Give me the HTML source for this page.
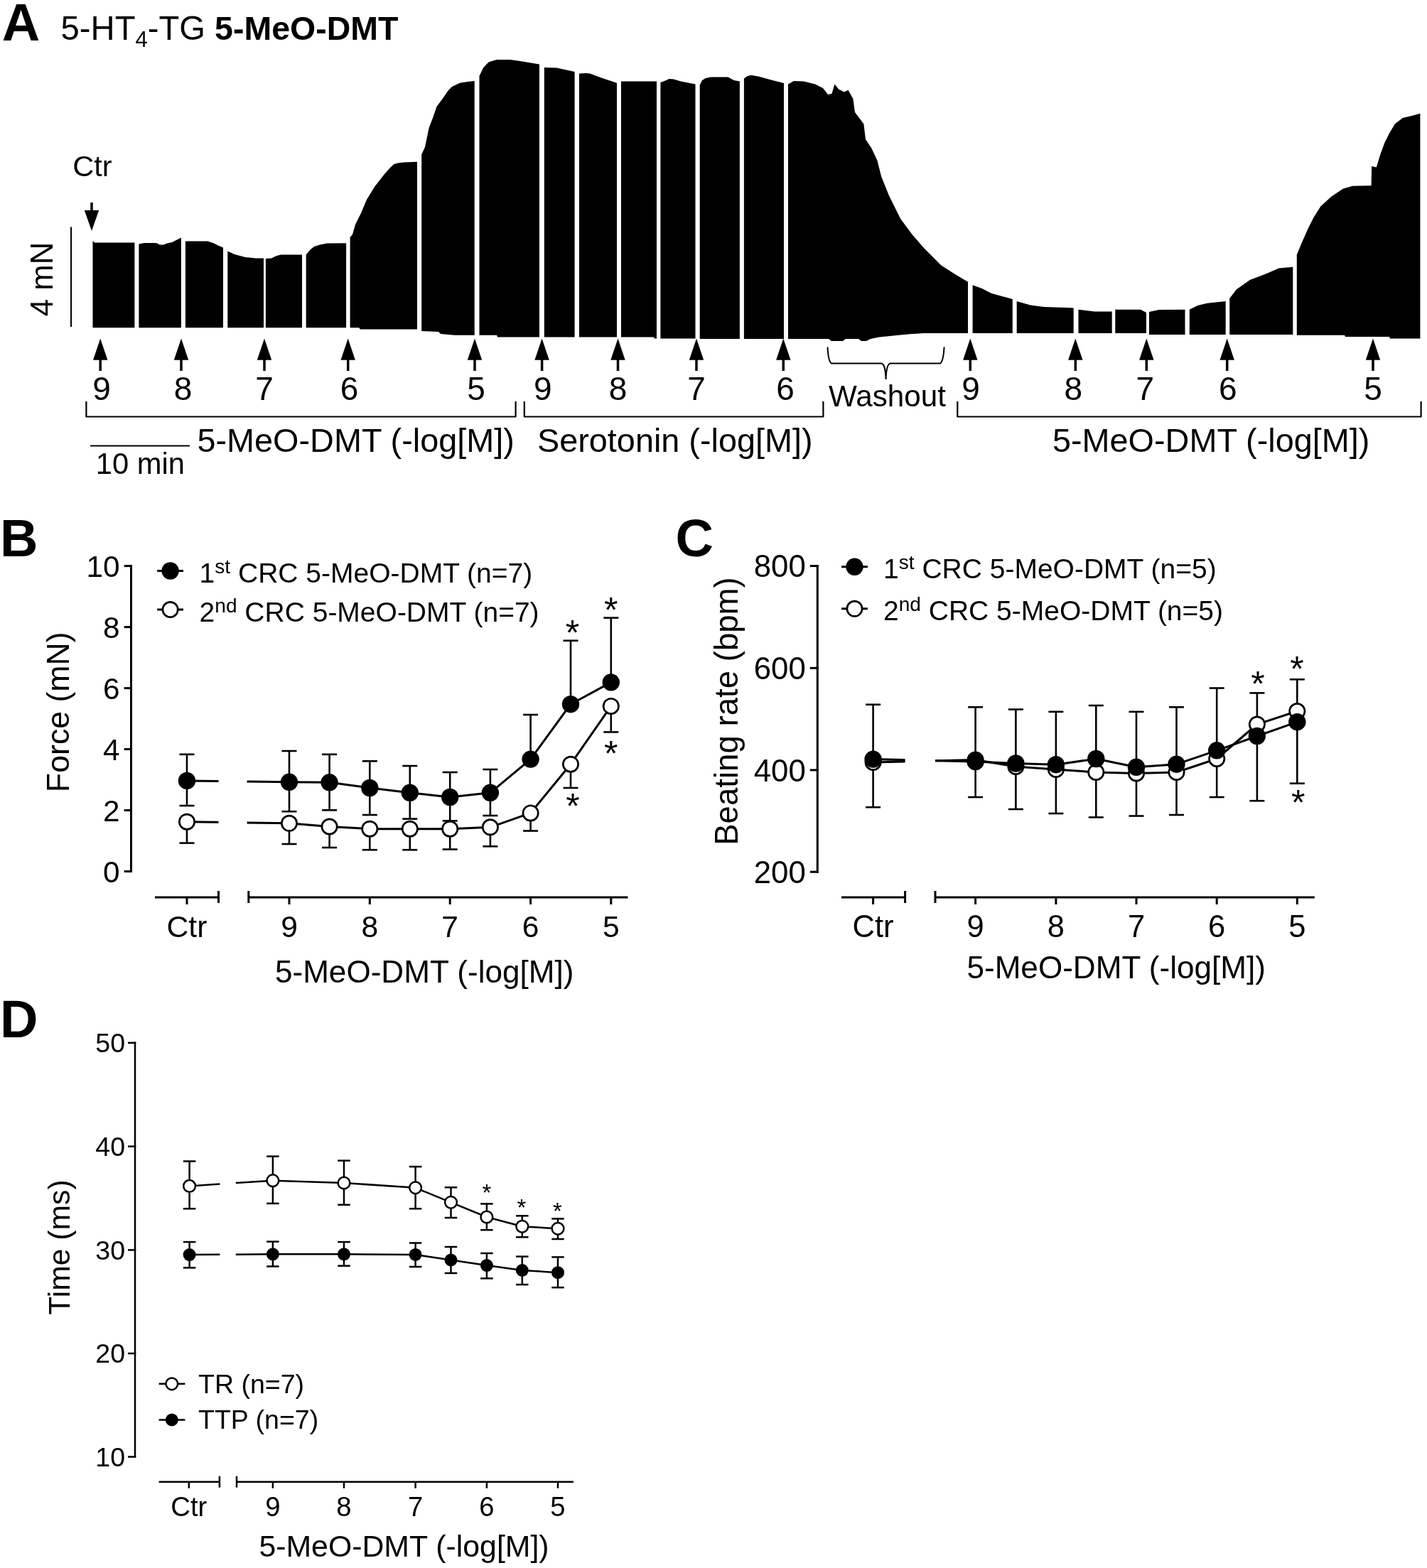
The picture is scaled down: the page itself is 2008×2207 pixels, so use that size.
<!DOCTYPE html>
<html lang="en">
<head>
<meta charset="utf-8">
<title>5-HT4-TG 5-MeO-DMT</title>
<style>
html,body{margin:0;padding:0;background:#fff;}
body{width:2008px;height:2207px;overflow:hidden;}
svg{display:block;}
svg text{font-family:"Liberation Sans", Arial, Helvetica, sans-serif;fill:#000;}
</style>
</head>
<body>
<svg width="2008" height="2207" viewBox="0 0 2008 2207">
<rect x="0" y="0" width="2008" height="2207" fill="#fff"/>
<text x="2.7" y="57" font-size="74" text-anchor="start" font-weight="bold">A</text>
<text x="85.6" y="56.4" font-size="47.2">5-HT<tspan dy="9.5" font-size="31">4</tspan><tspan dy="-9.5">-TG </tspan><tspan font-weight="bold" font-size="46.5">5-MeO-DMT</tspan></text>
<text x="102.3" y="247.7" font-size="41.5" text-anchor="start" font-weight="normal">Ctr</text>
<line x1="129" y1="285" x2="129" y2="300" stroke="#000" stroke-width="3.5" stroke-linecap="butt"/>
<polygon points="118.8,296 139.2,296 129,325" fill="#000"/>
<line x1="100" y1="319.5" x2="100" y2="460" stroke="#000" stroke-width="2" stroke-linecap="butt"/>
<text x="73.6" y="393" font-size="43.75" text-anchor="middle" font-weight="normal" transform="rotate(-90 73.6 393)">4 mN</text>
<polygon points="130.5,339 133,341.5 189.4,341.5 189.4,461.3 130.5,461.3" fill="#000"/>
<polygon points="195.4,343.5 203,342 220,342 225,344.5 230,344.5 235,342.5 242,341 248,338 254.9,334.5 254.9,461.3 195.4,461.3" fill="#000"/>
<polygon points="260.9,339.5 292,339.5 300,342 308,346 314,348.5 314,461.3 260.9,461.3" fill="#000"/>
<polygon points="320.3,353.5 330,358 345,362 360,363.5 371.0,363.5 371.0,461.3 320.3,461.3" fill="#000"/>
<polygon points="373.9,364 382,363.5 388,360.5 395,358.5 425,358.5 425,461.3 373.9,461.3" fill="#000"/>
<polygon points="430.7,358.5 436,352 442,347 450,344.5 460,342.5 487.1,342.2 487.1,461.3 430.7,461.3" fill="#000"/>
<polygon points="492.6,334 496,330 500,316 508,300 516,281 527,263 541,245 549,236 554.5,231 560,229.5 568,228.5 587,227.7 587,463.5 507,463.5 505,461.3 492.6,461.3" fill="#000"/>
<polygon points="593.2,217.6 598,207 603.6,180 609,166 614.5,150 622.7,139 631,127 636,122 647,116.7 658,115 667.7,114 667.7,471.7 640,471.7 620,470 617,467 593.2,466" fill="#000"/>
<polygon points="674.5,107 680,95.4 685,90 688,87.3 699,84 718,84 732,86 759,90.5 759,474.4 700,474.4 699,471.7 674.5,471.7" fill="#000"/>
<polygon points="765.8,95 783.5,95.4 808.6,101 808.6,474.4 765.8,474.4" fill="#000"/>
<polygon points="814.9,103.5 825,103 830,103.6 849,110.4 868,116.7 868,474.4 814.9,474.4" fill="#000"/>
<polygon points="874,114.5 924,114.5 924,476.6 921,476.6 920,474.4 874,474.4" fill="#000"/>
<polygon points="929.4,116 935,114 941.7,111 948,111.5 958,114.5 978.5,118.6 978.5,476.6 929.4,476.6" fill="#000"/>
<polygon points="984.7,120 988,113 993,110 1000,108.5 1024.5,108.5 1032.7,113 1040.9,114.5 1040.9,477 984.7,477" fill="#000"/>
<polygon points="1046.9,110.4 1052,107 1057,105.8 1068,107.7 1087,113 1103,117 1103,477 1046.9,477" fill="#000"/>
<polygon points="1109,118.6 1117,114 1131,114.5 1147,118.6 1158,124 1165,133 1170.4,132 1174.5,118.6 1180,125.4 1188,129.5 1193.6,126.8 1200.4,139 1203,158 1215.4,174.5 1218,196 1226.3,208.6 1234.5,226 1240,248 1250.8,275 1267.2,308 1283.5,330 1300,349 1324.4,373.5 1343.5,385.8 1362,396.7 1362,469 1300,469 1280,470.3 1237,474.4 1225,477 1219,480 1212,480 1208,477 1190,477 1186,480 1170,480 1166,477 1109,477" fill="#000"/>
<polygon points="1368.6,401.3 1381.7,406 1395.3,413 1424.8,421 1424.8,469 1368.6,469" fill="#000"/>
<polygon points="1430.7,424 1450,429.4 1469,432 1500,433 1510.7,433.5 1510.7,469 1430.7,469" fill="#000"/>
<polygon points="1517.5,435.7 1532,437.6 1540,438.4 1564.7,438.4 1564.7,469 1517.5,469" fill="#000"/>
<polygon points="1569.3,435.7 1605,435.7 1613,440 1613,469 1569.3,469" fill="#000"/>
<polygon points="1617,439 1630.7,436 1667.5,435.7 1667.5,471 1617,471" fill="#000"/>
<polygon points="1673.8,435.7 1685.2,430 1698.8,426.7 1724.7,424 1724.7,471 1673.8,471" fill="#000"/>
<polygon points="1730.2,420 1739.7,407.6 1758.8,394 1780.6,385.8 1799.7,377.6 1819.3,375.7 1819.3,471 1730.2,471" fill="#000"/>
<polygon points="1824.8,358.5 1831,343.5 1840.6,321.7 1848.8,305.4 1858.3,290.4 1873.3,276.7 1889.7,265.8 1903.3,261.7 1929.6,261.2 1930.1,234 1936.8,235.5 1941.8,218.9 1948.5,200.5 1955.3,187 1962.8,174.4 1973.7,166 1985.5,163.2 1998.4,159.8 1998.4,476.6 1956,476.6 1955,473.9 1893,473.9 1892,471.7 1824.8,471.7" fill="#000"/>
<polygon points="141.2,476.4 131.0,506.8 151.39999999999998,506.8" fill="#000"/>
<line x1="141.2" y1="505" x2="141.2" y2="522" stroke="#000" stroke-width="3.5" stroke-linecap="butt"/>
<text x="143" y="563.3" font-size="46" text-anchor="middle" font-weight="normal">9</text>
<polygon points="255,476.4 244.8,506.8 265.2,506.8" fill="#000"/>
<line x1="255" y1="505" x2="255" y2="522" stroke="#000" stroke-width="3.5" stroke-linecap="butt"/>
<text x="257.6" y="563.3" font-size="46" text-anchor="middle" font-weight="normal">8</text>
<polygon points="372,476.4 361.8,506.8 382.2,506.8" fill="#000"/>
<line x1="372" y1="505" x2="372" y2="522" stroke="#000" stroke-width="3.5" stroke-linecap="butt"/>
<text x="372" y="563.3" font-size="46" text-anchor="middle" font-weight="normal">7</text>
<polygon points="489.7,476.4 479.5,506.8 499.9,506.8" fill="#000"/>
<line x1="489.7" y1="505" x2="489.7" y2="522" stroke="#000" stroke-width="3.5" stroke-linecap="butt"/>
<text x="491.6" y="563.3" font-size="46" text-anchor="middle" font-weight="normal">6</text>
<polygon points="668,476.4 657.8,506.8 678.2,506.8" fill="#000"/>
<line x1="668" y1="505" x2="668" y2="522" stroke="#000" stroke-width="3.5" stroke-linecap="butt"/>
<text x="670" y="563.3" font-size="46" text-anchor="middle" font-weight="normal">5</text>
<polygon points="762.6,476.4 752.4,506.8 772.8000000000001,506.8" fill="#000"/>
<line x1="762.6" y1="505" x2="762.6" y2="522" stroke="#000" stroke-width="3.5" stroke-linecap="butt"/>
<text x="763.7" y="563.3" font-size="46" text-anchor="middle" font-weight="normal">9</text>
<polygon points="869.5,476.4 859.3,506.8 879.7,506.8" fill="#000"/>
<line x1="869.5" y1="505" x2="869.5" y2="522" stroke="#000" stroke-width="3.5" stroke-linecap="butt"/>
<text x="869.5" y="563.3" font-size="46" text-anchor="middle" font-weight="normal">8</text>
<polygon points="980,476.4 969.8,506.8 990.2,506.8" fill="#000"/>
<line x1="980" y1="505" x2="980" y2="522" stroke="#000" stroke-width="3.5" stroke-linecap="butt"/>
<text x="980" y="563.3" font-size="46" text-anchor="middle" font-weight="normal">7</text>
<polygon points="1102.3,476.4 1092.1,506.8 1112.5,506.8" fill="#000"/>
<line x1="1102.3" y1="505" x2="1102.3" y2="522" stroke="#000" stroke-width="3.5" stroke-linecap="butt"/>
<text x="1105" y="563.3" font-size="46" text-anchor="middle" font-weight="normal">6</text>
<polygon points="1365.3,476.4 1355.1,506.8 1375.5,506.8" fill="#000"/>
<line x1="1365.3" y1="505" x2="1365.3" y2="522" stroke="#000" stroke-width="3.5" stroke-linecap="butt"/>
<text x="1366" y="563.3" font-size="46" text-anchor="middle" font-weight="normal">9</text>
<polygon points="1513.3,476.4 1503.1,506.8 1523.5,506.8" fill="#000"/>
<line x1="1513.3" y1="505" x2="1513.3" y2="522" stroke="#000" stroke-width="3.5" stroke-linecap="butt"/>
<text x="1510.3" y="563.3" font-size="46" text-anchor="middle" font-weight="normal">8</text>
<polygon points="1613.3,476.4 1603.1,506.8 1623.5,506.8" fill="#000"/>
<line x1="1613.3" y1="505" x2="1613.3" y2="522" stroke="#000" stroke-width="3.5" stroke-linecap="butt"/>
<text x="1611.4" y="563.3" font-size="46" text-anchor="middle" font-weight="normal">7</text>
<polygon points="1726.7,476.4 1716.5,506.8 1736.9,506.8" fill="#000"/>
<line x1="1726.7" y1="505" x2="1726.7" y2="522" stroke="#000" stroke-width="3.5" stroke-linecap="butt"/>
<text x="1727.8" y="563.3" font-size="46" text-anchor="middle" font-weight="normal">6</text>
<polygon points="1932,476.4 1921.8,506.8 1942.2,506.8" fill="#000"/>
<line x1="1932" y1="505" x2="1932" y2="522" stroke="#000" stroke-width="3.5" stroke-linecap="butt"/>
<text x="1932" y="563.3" font-size="46" text-anchor="middle" font-weight="normal">5</text>
<polyline points="121.4,565 121.4,586.5 725.6,586.5 725.6,565" fill="none" stroke="#000" stroke-width="2.2" stroke-linejoin="round"/>
<polyline points="737.8,565 737.8,586.5 1158.4,586.5 1158.4,565" fill="none" stroke="#000" stroke-width="2.2" stroke-linejoin="round"/>
<polyline points="1347.3,565 1347.3,586.5 1999.6,586.5 1999.6,565" fill="none" stroke="#000" stroke-width="2.2" stroke-linejoin="round"/>
<path d="M1164.5,488.5 C1165,500 1166,509 1170,511.5 L1240,511.5 C1244,512 1246,518 1246.6,534 C1247,518 1249,512 1253,511.5 L1323,511.5 C1327,509 1328,500 1328.6,488.5" fill="none" stroke="#000" stroke-width="2"/>
<text x="1166" y="572" font-size="42.2" text-anchor="start" font-weight="normal">Washout</text>
<line x1="127" y1="627.6" x2="267" y2="627.6" stroke="#000" stroke-width="2" stroke-linecap="butt"/>
<text x="197.3" y="667.4" font-size="41.7" text-anchor="middle" font-weight="normal">10 min</text>
<text x="277.5" y="635.8" font-size="46.8" text-anchor="start" font-weight="normal">5-MeO-DMT (-log[M])</text>
<text x="756" y="635.8" font-size="46.8" text-anchor="start" font-weight="normal">Serotonin (-log[M])</text>
<text x="1481" y="635.8" font-size="46.8" text-anchor="start" font-weight="normal">5-MeO-DMT (-log[M])</text>
<text x="0" y="782.8" font-size="74" text-anchor="start" font-weight="bold">B</text>
<line x1="184.5" y1="795.1" x2="184.5" y2="1228.0" stroke="#000" stroke-width="3.0" stroke-linecap="butt"/>
<line x1="174.7" y1="796.6" x2="186.0" y2="796.6" stroke="#000" stroke-width="3.0" stroke-linecap="butt"/>
<text x="168.6" y="811.7434000000001" font-size="42.3" text-anchor="end" font-weight="normal">10</text>
<line x1="174.7" y1="882.6" x2="186.0" y2="882.6" stroke="#000" stroke-width="3.0" stroke-linecap="butt"/>
<text x="168.6" y="897.7434000000001" font-size="42.3" text-anchor="end" font-weight="normal">8</text>
<line x1="174.7" y1="968.6" x2="186.0" y2="968.6" stroke="#000" stroke-width="3.0" stroke-linecap="butt"/>
<text x="168.6" y="983.7434000000001" font-size="42.3" text-anchor="end" font-weight="normal">6</text>
<line x1="174.7" y1="1054.5" x2="186.0" y2="1054.5" stroke="#000" stroke-width="3.0" stroke-linecap="butt"/>
<text x="168.6" y="1069.6434" font-size="42.3" text-anchor="end" font-weight="normal">4</text>
<line x1="174.7" y1="1140.5" x2="186.0" y2="1140.5" stroke="#000" stroke-width="3.0" stroke-linecap="butt"/>
<text x="168.6" y="1155.6434" font-size="42.3" text-anchor="end" font-weight="normal">2</text>
<line x1="174.7" y1="1226.5" x2="186.0" y2="1226.5" stroke="#000" stroke-width="3.0" stroke-linecap="butt"/>
<text x="168.6" y="1241.6434" font-size="42.3" text-anchor="end" font-weight="normal">0</text>
<text x="97.5" y="1002.2" font-size="44.7" text-anchor="middle" font-weight="normal" transform="rotate(-90 97.5 1002.2)">Force (mN)</text>
<line x1="221.2" y1="803.5" x2="258.0" y2="803.5" stroke="#000" stroke-width="3.0" stroke-linecap="butt"/>
<circle cx="239.6" cy="803.5" r="12.2" fill="#000"/>
<line x1="221.2" y1="858" x2="258.0" y2="858" stroke="#000" stroke-width="3.0" stroke-linecap="butt"/>
<circle cx="239.6" cy="858" r="10.65" fill="#fff" stroke="#000" stroke-width="2.7"/>
<text x="280.6" y="820.0" font-size="39.0">1<tspan dy="-13" font-size="28.08">st</tspan><tspan dy="13"> CRC 5-MeO-DMT (n=7)</tspan></text>
<text x="280.6" y="874.5" font-size="39.0">2<tspan dy="-13" font-size="28.08">nd</tspan><tspan dy="13"> CRC 5-MeO-DMT (n=7)</tspan></text>
<line x1="263" y1="1061.8" x2="263" y2="1134" stroke="#000" stroke-width="2.6" stroke-linecap="butt"/>
<line x1="252.5" y1="1061.8" x2="273.5" y2="1061.8" stroke="#000" stroke-width="2.6" stroke-linecap="butt"/>
<line x1="252.5" y1="1134" x2="273.5" y2="1134" stroke="#000" stroke-width="2.6" stroke-linecap="butt"/>
<line x1="263" y1="1156.7" x2="263" y2="1186.6" stroke="#000" stroke-width="2.6" stroke-linecap="butt"/>
<line x1="252.5" y1="1186.6" x2="273.5" y2="1186.6" stroke="#000" stroke-width="2.6" stroke-linecap="butt"/>
<line x1="407" y1="1057" x2="407" y2="1142.2" stroke="#000" stroke-width="2.6" stroke-linecap="butt"/>
<line x1="396.5" y1="1057" x2="417.5" y2="1057" stroke="#000" stroke-width="2.6" stroke-linecap="butt"/>
<line x1="396.5" y1="1142.2" x2="417.5" y2="1142.2" stroke="#000" stroke-width="2.6" stroke-linecap="butt"/>
<line x1="407" y1="1158.8" x2="407" y2="1188" stroke="#000" stroke-width="2.6" stroke-linecap="butt"/>
<line x1="396.5" y1="1188" x2="417.5" y2="1188" stroke="#000" stroke-width="2.6" stroke-linecap="butt"/>
<line x1="463.6" y1="1061.8" x2="463.6" y2="1140.3" stroke="#000" stroke-width="2.6" stroke-linecap="butt"/>
<line x1="453.1" y1="1061.8" x2="474.1" y2="1061.8" stroke="#000" stroke-width="2.6" stroke-linecap="butt"/>
<line x1="453.1" y1="1140.3" x2="474.1" y2="1140.3" stroke="#000" stroke-width="2.6" stroke-linecap="butt"/>
<line x1="463.6" y1="1163.5" x2="463.6" y2="1193" stroke="#000" stroke-width="2.6" stroke-linecap="butt"/>
<line x1="453.1" y1="1193" x2="474.1" y2="1193" stroke="#000" stroke-width="2.6" stroke-linecap="butt"/>
<line x1="520.3" y1="1071.3" x2="520.3" y2="1147" stroke="#000" stroke-width="2.6" stroke-linecap="butt"/>
<line x1="509.79999999999995" y1="1071.3" x2="530.8" y2="1071.3" stroke="#000" stroke-width="2.6" stroke-linecap="butt"/>
<line x1="509.79999999999995" y1="1147" x2="530.8" y2="1147" stroke="#000" stroke-width="2.6" stroke-linecap="butt"/>
<line x1="520.3" y1="1166.7" x2="520.3" y2="1196.2" stroke="#000" stroke-width="2.6" stroke-linecap="butt"/>
<line x1="509.79999999999995" y1="1196.2" x2="530.8" y2="1196.2" stroke="#000" stroke-width="2.6" stroke-linecap="butt"/>
<line x1="576.8" y1="1078" x2="576.8" y2="1152.6" stroke="#000" stroke-width="2.6" stroke-linecap="butt"/>
<line x1="566.3" y1="1078" x2="587.3" y2="1078" stroke="#000" stroke-width="2.6" stroke-linecap="butt"/>
<line x1="566.3" y1="1152.6" x2="587.3" y2="1152.6" stroke="#000" stroke-width="2.6" stroke-linecap="butt"/>
<line x1="576.8" y1="1166.7" x2="576.8" y2="1196.2" stroke="#000" stroke-width="2.6" stroke-linecap="butt"/>
<line x1="566.3" y1="1196.2" x2="587.3" y2="1196.2" stroke="#000" stroke-width="2.6" stroke-linecap="butt"/>
<line x1="633.2" y1="1087" x2="633.2" y2="1155.3" stroke="#000" stroke-width="2.6" stroke-linecap="butt"/>
<line x1="622.7" y1="1087" x2="643.7" y2="1087" stroke="#000" stroke-width="2.6" stroke-linecap="butt"/>
<line x1="622.7" y1="1155.3" x2="643.7" y2="1155.3" stroke="#000" stroke-width="2.6" stroke-linecap="butt"/>
<line x1="633.2" y1="1166.7" x2="633.2" y2="1195.5" stroke="#000" stroke-width="2.6" stroke-linecap="butt"/>
<line x1="622.7" y1="1195.5" x2="643.7" y2="1195.5" stroke="#000" stroke-width="2.6" stroke-linecap="butt"/>
<line x1="689.9" y1="1083" x2="689.9" y2="1148" stroke="#000" stroke-width="2.6" stroke-linecap="butt"/>
<line x1="679.4" y1="1083" x2="700.4" y2="1083" stroke="#000" stroke-width="2.6" stroke-linecap="butt"/>
<line x1="679.4" y1="1148" x2="700.4" y2="1148" stroke="#000" stroke-width="2.6" stroke-linecap="butt"/>
<line x1="689.9" y1="1164.3" x2="689.9" y2="1191.3" stroke="#000" stroke-width="2.6" stroke-linecap="butt"/>
<line x1="679.4" y1="1191.3" x2="700.4" y2="1191.3" stroke="#000" stroke-width="2.6" stroke-linecap="butt"/>
<line x1="746.6" y1="1006" x2="746.6" y2="1068.6" stroke="#000" stroke-width="2.6" stroke-linecap="butt"/>
<line x1="736.1" y1="1006" x2="757.1" y2="1006" stroke="#000" stroke-width="2.6" stroke-linecap="butt"/>
<line x1="746.6" y1="1144.4" x2="746.6" y2="1169.5" stroke="#000" stroke-width="2.6" stroke-linecap="butt"/>
<line x1="736.1" y1="1169.5" x2="757.1" y2="1169.5" stroke="#000" stroke-width="2.6" stroke-linecap="butt"/>
<line x1="803" y1="901.7" x2="803" y2="991.2" stroke="#000" stroke-width="2.6" stroke-linecap="butt"/>
<line x1="792.5" y1="901.7" x2="813.5" y2="901.7" stroke="#000" stroke-width="2.6" stroke-linecap="butt"/>
<line x1="803" y1="1075.7" x2="803" y2="1109" stroke="#000" stroke-width="2.6" stroke-linecap="butt"/>
<line x1="792.5" y1="1109" x2="813.5" y2="1109" stroke="#000" stroke-width="2.6" stroke-linecap="butt"/>
<line x1="859.8" y1="869.6" x2="859.8" y2="960.4" stroke="#000" stroke-width="2.6" stroke-linecap="butt"/>
<line x1="849.3" y1="869.6" x2="870.3" y2="869.6" stroke="#000" stroke-width="2.6" stroke-linecap="butt"/>
<line x1="859.8" y1="993.9" x2="859.8" y2="1030.4" stroke="#000" stroke-width="2.6" stroke-linecap="butt"/>
<line x1="849.3" y1="1030.4" x2="870.3" y2="1030.4" stroke="#000" stroke-width="2.6" stroke-linecap="butt"/>
<line x1="263" y1="1098.9" x2="307.5" y2="1099.4871527777777" stroke="#000" stroke-width="3.0" stroke-linecap="butt"/>
<polyline points="347.6,1100.01625 407,1100.8 463.6,1101.3 520.3,1109 576.8,1115.8 633.2,1122 689.9,1115.8 746.6,1068.6 803,991.2 859.8,960.4" fill="none" stroke="#000" stroke-width="3.0" stroke-linejoin="round"/>
<line x1="263" y1="1156.7" x2="307.5" y2="1157.3489583333333" stroke="#000" stroke-width="3.0" stroke-linecap="butt"/>
<polyline points="347.6,1157.93375 407,1158.8 463.6,1163.5 520.3,1166.7 576.8,1166.7 633.2,1166.7 689.9,1164.3 746.6,1144.4 803,1075.7 859.8,993.9" fill="none" stroke="#000" stroke-width="3.0" stroke-linejoin="round"/>
<circle cx="263" cy="1098.9" r="12.2" fill="#000"/>
<circle cx="407" cy="1100.8" r="12.2" fill="#000"/>
<circle cx="463.6" cy="1101.3" r="12.2" fill="#000"/>
<circle cx="520.3" cy="1109" r="12.2" fill="#000"/>
<circle cx="576.8" cy="1115.8" r="12.2" fill="#000"/>
<circle cx="633.2" cy="1122" r="12.2" fill="#000"/>
<circle cx="689.9" cy="1115.8" r="12.2" fill="#000"/>
<circle cx="746.6" cy="1068.6" r="12.2" fill="#000"/>
<circle cx="803" cy="991.2" r="12.2" fill="#000"/>
<circle cx="859.8" cy="960.4" r="12.2" fill="#000"/>
<circle cx="263" cy="1156.7" r="10.65" fill="#fff" stroke="#000" stroke-width="2.7"/>
<circle cx="407" cy="1158.8" r="10.65" fill="#fff" stroke="#000" stroke-width="2.7"/>
<circle cx="463.6" cy="1163.5" r="10.65" fill="#fff" stroke="#000" stroke-width="2.7"/>
<circle cx="520.3" cy="1166.7" r="10.65" fill="#fff" stroke="#000" stroke-width="2.7"/>
<circle cx="576.8" cy="1166.7" r="10.65" fill="#fff" stroke="#000" stroke-width="2.7"/>
<circle cx="633.2" cy="1166.7" r="10.65" fill="#fff" stroke="#000" stroke-width="2.7"/>
<circle cx="689.9" cy="1164.3" r="10.65" fill="#fff" stroke="#000" stroke-width="2.7"/>
<circle cx="746.6" cy="1144.4" r="10.65" fill="#fff" stroke="#000" stroke-width="2.7"/>
<circle cx="803" cy="1075.7" r="10.65" fill="#fff" stroke="#000" stroke-width="2.7"/>
<circle cx="859.8" cy="993.9" r="10.65" fill="#fff" stroke="#000" stroke-width="2.7"/>
<text x="805.6" y="907.5" font-size="50" text-anchor="middle" font-weight="normal">*</text>
<text x="859.8" y="876.0" font-size="50" text-anchor="middle" font-weight="normal">*</text>
<text x="806" y="1151.8" font-size="50" text-anchor="middle" font-weight="normal">*</text>
<text x="859.8" y="1078.2" font-size="50" text-anchor="middle" font-weight="normal">*</text>
<line x1="218" y1="1263" x2="307.5" y2="1263" stroke="#000" stroke-width="3.0" stroke-linecap="butt"/>
<line x1="307.5" y1="1254" x2="307.5" y2="1271" stroke="#000" stroke-width="3.0" stroke-linecap="butt"/>
<line x1="263" y1="1263" x2="263" y2="1273" stroke="#000" stroke-width="3.0" stroke-linecap="butt"/>
<line x1="349.8" y1="1263" x2="883.5" y2="1263" stroke="#000" stroke-width="3.0" stroke-linecap="butt"/>
<line x1="349.8" y1="1254" x2="349.8" y2="1271" stroke="#000" stroke-width="3.0" stroke-linecap="butt"/>
<line x1="407" y1="1263" x2="407" y2="1273" stroke="#000" stroke-width="3.0" stroke-linecap="butt"/>
<line x1="520.3" y1="1263" x2="520.3" y2="1273" stroke="#000" stroke-width="3.0" stroke-linecap="butt"/>
<line x1="633.2" y1="1263" x2="633.2" y2="1273" stroke="#000" stroke-width="3.0" stroke-linecap="butt"/>
<line x1="746.6" y1="1263" x2="746.6" y2="1273" stroke="#000" stroke-width="3.0" stroke-linecap="butt"/>
<line x1="859.8" y1="1263" x2="859.8" y2="1273" stroke="#000" stroke-width="3.0" stroke-linecap="butt"/>
<text x="263" y="1318.8" font-size="42.6" text-anchor="middle" font-weight="normal">Ctr</text>
<text x="407" y="1318.8" font-size="42.6" text-anchor="middle" font-weight="normal">9</text>
<text x="520.3" y="1318.8" font-size="42.6" text-anchor="middle" font-weight="normal">8</text>
<text x="633.2" y="1318.8" font-size="42.6" text-anchor="middle" font-weight="normal">7</text>
<text x="746.6" y="1318.8" font-size="42.6" text-anchor="middle" font-weight="normal">6</text>
<text x="859.8" y="1318.8" font-size="42.6" text-anchor="middle" font-weight="normal">5</text>
<text x="597.2" y="1382.8" font-size="44.1" text-anchor="middle" font-weight="normal">5-MeO-DMT (-log[M])</text>
<text x="950.6" y="783" font-size="74" text-anchor="start" font-weight="bold">C</text>
<line x1="1150.3" y1="795.1" x2="1150.3" y2="1228.7" stroke="#000" stroke-width="3.0" stroke-linecap="butt"/>
<line x1="1139.8" y1="796.6" x2="1151.8" y2="796.6" stroke="#000" stroke-width="3.0" stroke-linecap="butt"/>
<text x="1133.8" y="812.2804" font-size="43.8" text-anchor="end" font-weight="normal">800</text>
<line x1="1139.8" y1="940.3" x2="1151.8" y2="940.3" stroke="#000" stroke-width="3.0" stroke-linecap="butt"/>
<text x="1133.8" y="955.9803999999999" font-size="43.8" text-anchor="end" font-weight="normal">600</text>
<line x1="1139.8" y1="1083.9" x2="1151.8" y2="1083.9" stroke="#000" stroke-width="3.0" stroke-linecap="butt"/>
<text x="1133.8" y="1099.5804" font-size="43.8" text-anchor="end" font-weight="normal">400</text>
<line x1="1139.8" y1="1227.2" x2="1151.8" y2="1227.2" stroke="#000" stroke-width="3.0" stroke-linecap="butt"/>
<text x="1133.8" y="1242.8804" font-size="43.8" text-anchor="end" font-weight="normal">200</text>
<text x="1038" y="1001" font-size="45.6" text-anchor="middle" font-weight="normal" transform="rotate(-90 1038 1001)">Beating rate (bpm)</text>
<line x1="1184.1" y1="797.8" x2="1220.9" y2="797.8" stroke="#000" stroke-width="3.0" stroke-linecap="butt"/>
<circle cx="1202.5" cy="797.8" r="12.2" fill="#000"/>
<line x1="1184.1" y1="856.8" x2="1220.9" y2="856.8" stroke="#000" stroke-width="3.0" stroke-linecap="butt"/>
<circle cx="1202.5" cy="856.8" r="10.65" fill="#fff" stroke="#000" stroke-width="2.7"/>
<text x="1243" y="813.5" font-size="39.0">1<tspan dy="-13" font-size="28.08">st</tspan><tspan dy="13"> CRC 5-MeO-DMT (n=5)</tspan></text>
<text x="1243" y="872.5" font-size="39.0">2<tspan dy="-13" font-size="28.08">nd</tspan><tspan dy="13"> CRC 5-MeO-DMT (n=5)</tspan></text>
<line x1="1228.6" y1="991.7" x2="1228.6" y2="1136.2" stroke="#000" stroke-width="2.6" stroke-linecap="butt"/>
<line x1="1218.1" y1="991.7" x2="1239.1" y2="991.7" stroke="#000" stroke-width="2.6" stroke-linecap="butt"/>
<line x1="1218.1" y1="1136.2" x2="1239.1" y2="1136.2" stroke="#000" stroke-width="2.6" stroke-linecap="butt"/>
<line x1="1372.6" y1="995.3" x2="1372.6" y2="1122" stroke="#000" stroke-width="2.6" stroke-linecap="butt"/>
<line x1="1362.1" y1="995.3" x2="1383.1" y2="995.3" stroke="#000" stroke-width="2.6" stroke-linecap="butt"/>
<line x1="1362.1" y1="1122" x2="1383.1" y2="1122" stroke="#000" stroke-width="2.6" stroke-linecap="butt"/>
<line x1="1429.4" y1="998.5" x2="1429.4" y2="1139" stroke="#000" stroke-width="2.6" stroke-linecap="butt"/>
<line x1="1418.9" y1="998.5" x2="1439.9" y2="998.5" stroke="#000" stroke-width="2.6" stroke-linecap="butt"/>
<line x1="1418.9" y1="1139" x2="1439.9" y2="1139" stroke="#000" stroke-width="2.6" stroke-linecap="butt"/>
<line x1="1485.9" y1="1001.8" x2="1485.9" y2="1145" stroke="#000" stroke-width="2.6" stroke-linecap="butt"/>
<line x1="1475.4" y1="1001.8" x2="1496.4" y2="1001.8" stroke="#000" stroke-width="2.6" stroke-linecap="butt"/>
<line x1="1475.4" y1="1145" x2="1496.4" y2="1145" stroke="#000" stroke-width="2.6" stroke-linecap="butt"/>
<line x1="1542.3" y1="993" x2="1542.3" y2="1150.4" stroke="#000" stroke-width="2.6" stroke-linecap="butt"/>
<line x1="1531.8" y1="993" x2="1552.8" y2="993" stroke="#000" stroke-width="2.6" stroke-linecap="butt"/>
<line x1="1531.8" y1="1150.4" x2="1552.8" y2="1150.4" stroke="#000" stroke-width="2.6" stroke-linecap="butt"/>
<line x1="1599" y1="1001.8" x2="1599" y2="1148.5" stroke="#000" stroke-width="2.6" stroke-linecap="butt"/>
<line x1="1588.5" y1="1001.8" x2="1609.5" y2="1001.8" stroke="#000" stroke-width="2.6" stroke-linecap="butt"/>
<line x1="1588.5" y1="1148.5" x2="1609.5" y2="1148.5" stroke="#000" stroke-width="2.6" stroke-linecap="butt"/>
<line x1="1655.5" y1="995.3" x2="1655.5" y2="1147" stroke="#000" stroke-width="2.6" stroke-linecap="butt"/>
<line x1="1645.0" y1="995.3" x2="1666.0" y2="995.3" stroke="#000" stroke-width="2.6" stroke-linecap="butt"/>
<line x1="1645.0" y1="1147" x2="1666.0" y2="1147" stroke="#000" stroke-width="2.6" stroke-linecap="butt"/>
<line x1="1712.2" y1="968.5" x2="1712.2" y2="1122" stroke="#000" stroke-width="2.6" stroke-linecap="butt"/>
<line x1="1701.7" y1="968.5" x2="1722.7" y2="968.5" stroke="#000" stroke-width="2.6" stroke-linecap="butt"/>
<line x1="1701.7" y1="1122" x2="1722.7" y2="1122" stroke="#000" stroke-width="2.6" stroke-linecap="butt"/>
<line x1="1768.9" y1="975.4" x2="1768.9" y2="1127.2" stroke="#000" stroke-width="2.6" stroke-linecap="butt"/>
<line x1="1758.4" y1="975.4" x2="1779.4" y2="975.4" stroke="#000" stroke-width="2.6" stroke-linecap="butt"/>
<line x1="1758.4" y1="1127.2" x2="1779.4" y2="1127.2" stroke="#000" stroke-width="2.6" stroke-linecap="butt"/>
<line x1="1825.3" y1="956.3" x2="1825.3" y2="1102.7" stroke="#000" stroke-width="2.6" stroke-linecap="butt"/>
<line x1="1814.8" y1="956.3" x2="1835.8" y2="956.3" stroke="#000" stroke-width="2.6" stroke-linecap="butt"/>
<line x1="1814.8" y1="1102.7" x2="1835.8" y2="1102.7" stroke="#000" stroke-width="2.6" stroke-linecap="butt"/>
<line x1="1228.6" y1="1073" x2="1273.6" y2="1071.875" stroke="#000" stroke-width="3.0" stroke-linecap="butt"/>
<polyline points="1316,1070.815 1372.6,1069.4 1429.4,1079 1485.9,1083 1542.3,1087 1599,1088.5 1655.5,1087 1712.2,1068 1768.9,1019.5 1825.3,1001" fill="none" stroke="#000" stroke-width="3.0" stroke-linejoin="round"/>
<circle cx="1228.6" cy="1073" r="10.65" fill="#fff" stroke="#000" stroke-width="2.7"/>
<circle cx="1372.6" cy="1069.4" r="10.65" fill="#fff" stroke="#000" stroke-width="2.7"/>
<circle cx="1429.4" cy="1079" r="10.65" fill="#fff" stroke="#000" stroke-width="2.7"/>
<circle cx="1485.9" cy="1083" r="10.65" fill="#fff" stroke="#000" stroke-width="2.7"/>
<circle cx="1542.3" cy="1087" r="10.65" fill="#fff" stroke="#000" stroke-width="2.7"/>
<circle cx="1599" cy="1088.5" r="10.65" fill="#fff" stroke="#000" stroke-width="2.7"/>
<circle cx="1655.5" cy="1087" r="10.65" fill="#fff" stroke="#000" stroke-width="2.7"/>
<circle cx="1712.2" cy="1068" r="10.65" fill="#fff" stroke="#000" stroke-width="2.7"/>
<circle cx="1768.9" cy="1019.5" r="10.65" fill="#fff" stroke="#000" stroke-width="2.7"/>
<circle cx="1825.3" cy="1001" r="10.65" fill="#fff" stroke="#000" stroke-width="2.7"/>
<line x1="1228.6" y1="1068.6" x2="1273.6" y2="1069.6625" stroke="#000" stroke-width="3.0" stroke-linecap="butt"/>
<polyline points="1316,1070.663611111111 1372.6,1072 1429.4,1074.5 1485.9,1076.2 1542.3,1068 1599,1079.8 1655.5,1075.7 1712.2,1056.3 1768.9,1036 1825.3,1016.2" fill="none" stroke="#000" stroke-width="3.0" stroke-linejoin="round"/>
<circle cx="1228.6" cy="1068.6" r="12.2" fill="#000"/>
<circle cx="1372.6" cy="1072" r="12.2" fill="#000"/>
<circle cx="1429.4" cy="1074.5" r="12.2" fill="#000"/>
<circle cx="1485.9" cy="1076.2" r="12.2" fill="#000"/>
<circle cx="1542.3" cy="1068" r="12.2" fill="#000"/>
<circle cx="1599" cy="1079.8" r="12.2" fill="#000"/>
<circle cx="1655.5" cy="1075.7" r="12.2" fill="#000"/>
<circle cx="1712.2" cy="1056.3" r="12.2" fill="#000"/>
<circle cx="1768.9" cy="1036" r="12.2" fill="#000"/>
<circle cx="1825.3" cy="1016.2" r="12.2" fill="#000"/>
<text x="1770" y="980.2" font-size="50" text-anchor="middle" font-weight="normal">*</text>
<text x="1825" y="958.5" font-size="50" text-anchor="middle" font-weight="normal">*</text>
<text x="1826.7" y="1147.3" font-size="50" text-anchor="middle" font-weight="normal">*</text>
<line x1="1184" y1="1263" x2="1273.6" y2="1263" stroke="#000" stroke-width="3.0" stroke-linecap="butt"/>
<line x1="1273.6" y1="1254" x2="1273.6" y2="1271" stroke="#000" stroke-width="3.0" stroke-linecap="butt"/>
<line x1="1228.6" y1="1263" x2="1228.6" y2="1273" stroke="#000" stroke-width="3.0" stroke-linecap="butt"/>
<line x1="1316" y1="1263" x2="1849.8" y2="1263" stroke="#000" stroke-width="3.0" stroke-linecap="butt"/>
<line x1="1316" y1="1254" x2="1316" y2="1271" stroke="#000" stroke-width="3.0" stroke-linecap="butt"/>
<line x1="1372.6" y1="1263" x2="1372.6" y2="1273" stroke="#000" stroke-width="3.0" stroke-linecap="butt"/>
<line x1="1485.9" y1="1263" x2="1485.9" y2="1273" stroke="#000" stroke-width="3.0" stroke-linecap="butt"/>
<line x1="1599" y1="1263" x2="1599" y2="1273" stroke="#000" stroke-width="3.0" stroke-linecap="butt"/>
<line x1="1712.2" y1="1263" x2="1712.2" y2="1273" stroke="#000" stroke-width="3.0" stroke-linecap="butt"/>
<line x1="1825.3" y1="1263" x2="1825.3" y2="1273" stroke="#000" stroke-width="3.0" stroke-linecap="butt"/>
<text x="1228.6" y="1318.6" font-size="43.5" text-anchor="middle" font-weight="normal">Ctr</text>
<text x="1372.6" y="1318.6" font-size="43.5" text-anchor="middle" font-weight="normal">9</text>
<text x="1485.9" y="1318.6" font-size="43.5" text-anchor="middle" font-weight="normal">8</text>
<text x="1599" y="1318.6" font-size="43.5" text-anchor="middle" font-weight="normal">7</text>
<text x="1712.2" y="1318.6" font-size="43.5" text-anchor="middle" font-weight="normal">6</text>
<text x="1825.3" y="1318.6" font-size="43.5" text-anchor="middle" font-weight="normal">5</text>
<text x="1570.7" y="1376.6" font-size="44.1" text-anchor="middle" font-weight="normal">5-MeO-DMT (-log[M])</text>
<text x="0" y="1460.4" font-size="74" text-anchor="start" font-weight="bold">D</text>
<line x1="190" y1="1466.55" x2="190" y2="2051.75" stroke="#000" stroke-width="2.5" stroke-linecap="butt"/>
<line x1="180" y1="1467.8" x2="191.25" y2="1467.8" stroke="#000" stroke-width="2.5" stroke-linecap="butt"/>
<text x="176" y="1481.225" font-size="37.5" text-anchor="end" font-weight="normal">50</text>
<line x1="180" y1="1613.6" x2="191.25" y2="1613.6" stroke="#000" stroke-width="2.5" stroke-linecap="butt"/>
<text x="176" y="1627.0249999999999" font-size="37.5" text-anchor="end" font-weight="normal">40</text>
<line x1="180" y1="1759.4" x2="191.25" y2="1759.4" stroke="#000" stroke-width="2.5" stroke-linecap="butt"/>
<text x="176" y="1772.825" font-size="37.5" text-anchor="end" font-weight="normal">30</text>
<line x1="180" y1="1905" x2="191.25" y2="1905" stroke="#000" stroke-width="2.5" stroke-linecap="butt"/>
<text x="176" y="1918.425" font-size="37.5" text-anchor="end" font-weight="normal">20</text>
<line x1="180" y1="2050.5" x2="191.25" y2="2050.5" stroke="#000" stroke-width="2.5" stroke-linecap="butt"/>
<text x="176" y="2063.925" font-size="37.5" text-anchor="end" font-weight="normal">10</text>
<text x="98.4" y="1755.6" font-size="42.7" text-anchor="middle" font-weight="normal" transform="rotate(-90 98.4 1755.6)">Time (ms)</text>
<line x1="266.6" y1="1634.5" x2="266.6" y2="1701.3" stroke="#000" stroke-width="2.5" stroke-linecap="butt"/>
<line x1="257.85" y1="1634.5" x2="275.35" y2="1634.5" stroke="#000" stroke-width="2.5" stroke-linecap="butt"/>
<line x1="257.85" y1="1701.3" x2="275.35" y2="1701.3" stroke="#000" stroke-width="2.5" stroke-linecap="butt"/>
<line x1="266.6" y1="1748.1" x2="266.6" y2="1784.4" stroke="#000" stroke-width="2.5" stroke-linecap="butt"/>
<line x1="257.85" y1="1748.1" x2="275.35" y2="1748.1" stroke="#000" stroke-width="2.5" stroke-linecap="butt"/>
<line x1="257.85" y1="1784.4" x2="275.35" y2="1784.4" stroke="#000" stroke-width="2.5" stroke-linecap="butt"/>
<line x1="383.9" y1="1627.6" x2="383.9" y2="1693.9" stroke="#000" stroke-width="2.5" stroke-linecap="butt"/>
<line x1="375.15" y1="1627.6" x2="392.65" y2="1627.6" stroke="#000" stroke-width="2.5" stroke-linecap="butt"/>
<line x1="375.15" y1="1693.9" x2="392.65" y2="1693.9" stroke="#000" stroke-width="2.5" stroke-linecap="butt"/>
<line x1="383.9" y1="1747.6" x2="383.9" y2="1782.5" stroke="#000" stroke-width="2.5" stroke-linecap="butt"/>
<line x1="375.15" y1="1747.6" x2="392.65" y2="1747.6" stroke="#000" stroke-width="2.5" stroke-linecap="butt"/>
<line x1="375.15" y1="1782.5" x2="392.65" y2="1782.5" stroke="#000" stroke-width="2.5" stroke-linecap="butt"/>
<line x1="484" y1="1633.6" x2="484" y2="1695.8" stroke="#000" stroke-width="2.5" stroke-linecap="butt"/>
<line x1="475.25" y1="1633.6" x2="492.75" y2="1633.6" stroke="#000" stroke-width="2.5" stroke-linecap="butt"/>
<line x1="475.25" y1="1695.8" x2="492.75" y2="1695.8" stroke="#000" stroke-width="2.5" stroke-linecap="butt"/>
<line x1="484" y1="1748.1" x2="484" y2="1781.7" stroke="#000" stroke-width="2.5" stroke-linecap="butt"/>
<line x1="475.25" y1="1748.1" x2="492.75" y2="1748.1" stroke="#000" stroke-width="2.5" stroke-linecap="butt"/>
<line x1="475.25" y1="1781.7" x2="492.75" y2="1781.7" stroke="#000" stroke-width="2.5" stroke-linecap="butt"/>
<line x1="584.6" y1="1642.1" x2="584.6" y2="1701.3" stroke="#000" stroke-width="2.5" stroke-linecap="butt"/>
<line x1="575.85" y1="1642.1" x2="593.35" y2="1642.1" stroke="#000" stroke-width="2.5" stroke-linecap="butt"/>
<line x1="575.85" y1="1701.3" x2="593.35" y2="1701.3" stroke="#000" stroke-width="2.5" stroke-linecap="butt"/>
<line x1="584.6" y1="1749.5" x2="584.6" y2="1783" stroke="#000" stroke-width="2.5" stroke-linecap="butt"/>
<line x1="575.85" y1="1749.5" x2="593.35" y2="1749.5" stroke="#000" stroke-width="2.5" stroke-linecap="butt"/>
<line x1="575.85" y1="1783" x2="593.35" y2="1783" stroke="#000" stroke-width="2.5" stroke-linecap="butt"/>
<line x1="634.5" y1="1671.3" x2="634.5" y2="1714" stroke="#000" stroke-width="2.5" stroke-linecap="butt"/>
<line x1="625.75" y1="1671.3" x2="643.25" y2="1671.3" stroke="#000" stroke-width="2.5" stroke-linecap="butt"/>
<line x1="625.75" y1="1714" x2="643.25" y2="1714" stroke="#000" stroke-width="2.5" stroke-linecap="butt"/>
<line x1="634.5" y1="1755" x2="634.5" y2="1792" stroke="#000" stroke-width="2.5" stroke-linecap="butt"/>
<line x1="625.75" y1="1755" x2="643.25" y2="1755" stroke="#000" stroke-width="2.5" stroke-linecap="butt"/>
<line x1="625.75" y1="1792" x2="643.25" y2="1792" stroke="#000" stroke-width="2.5" stroke-linecap="butt"/>
<line x1="684.9" y1="1694.4" x2="684.9" y2="1731.2" stroke="#000" stroke-width="2.5" stroke-linecap="butt"/>
<line x1="676.15" y1="1694.4" x2="693.65" y2="1694.4" stroke="#000" stroke-width="2.5" stroke-linecap="butt"/>
<line x1="676.15" y1="1731.2" x2="693.65" y2="1731.2" stroke="#000" stroke-width="2.5" stroke-linecap="butt"/>
<line x1="684.9" y1="1764" x2="684.9" y2="1799.4" stroke="#000" stroke-width="2.5" stroke-linecap="butt"/>
<line x1="676.15" y1="1764" x2="693.65" y2="1764" stroke="#000" stroke-width="2.5" stroke-linecap="butt"/>
<line x1="676.15" y1="1799.4" x2="693.65" y2="1799.4" stroke="#000" stroke-width="2.5" stroke-linecap="butt"/>
<line x1="734.8" y1="1711.3" x2="734.8" y2="1741.3" stroke="#000" stroke-width="2.5" stroke-linecap="butt"/>
<line x1="726.05" y1="1711.3" x2="743.55" y2="1711.3" stroke="#000" stroke-width="2.5" stroke-linecap="butt"/>
<line x1="726.05" y1="1741.3" x2="743.55" y2="1741.3" stroke="#000" stroke-width="2.5" stroke-linecap="butt"/>
<line x1="734.8" y1="1768.6" x2="734.8" y2="1808.1" stroke="#000" stroke-width="2.5" stroke-linecap="butt"/>
<line x1="726.05" y1="1768.6" x2="743.55" y2="1768.6" stroke="#000" stroke-width="2.5" stroke-linecap="butt"/>
<line x1="726.05" y1="1808.1" x2="743.55" y2="1808.1" stroke="#000" stroke-width="2.5" stroke-linecap="butt"/>
<line x1="785" y1="1715.4" x2="785" y2="1744" stroke="#000" stroke-width="2.5" stroke-linecap="butt"/>
<line x1="776.25" y1="1715.4" x2="793.75" y2="1715.4" stroke="#000" stroke-width="2.5" stroke-linecap="butt"/>
<line x1="776.25" y1="1744" x2="793.75" y2="1744" stroke="#000" stroke-width="2.5" stroke-linecap="butt"/>
<line x1="785" y1="1769.4" x2="785" y2="1812.2" stroke="#000" stroke-width="2.5" stroke-linecap="butt"/>
<line x1="776.25" y1="1769.4" x2="793.75" y2="1769.4" stroke="#000" stroke-width="2.5" stroke-linecap="butt"/>
<line x1="776.25" y1="1812.2" x2="793.75" y2="1812.2" stroke="#000" stroke-width="2.5" stroke-linecap="butt"/>
<line x1="266.6" y1="1669.4" x2="309.4" y2="1666.590451832907" stroke="#000" stroke-width="2.5" stroke-linecap="butt"/>
<polyline points="331.8,1665.1200341005967 383.9,1661.7 484,1665 584.6,1671.8 634.5,1692.3 684.9,1713 734.8,1726.3 785,1729.3" fill="none" stroke="#000" stroke-width="2.5" stroke-linejoin="round"/>
<line x1="266.6" y1="1766.1" x2="309.4" y2="1765.8080988917304" stroke="#000" stroke-width="2.5" stroke-linecap="butt"/>
<polyline points="331.8,1765.6553282182438 383.9,1765.3 484,1765.3 584.6,1765.9 634.5,1773.5 684.9,1781.1 734.8,1788 785,1791.2" fill="none" stroke="#000" stroke-width="2.5" stroke-linejoin="round"/>
<circle cx="266.6" cy="1669.4" r="8.35" fill="#fff" stroke="#000" stroke-width="2.5"/>
<circle cx="383.9" cy="1661.7" r="8.35" fill="#fff" stroke="#000" stroke-width="2.5"/>
<circle cx="484" cy="1665" r="8.35" fill="#fff" stroke="#000" stroke-width="2.5"/>
<circle cx="584.6" cy="1671.8" r="8.35" fill="#fff" stroke="#000" stroke-width="2.5"/>
<circle cx="634.5" cy="1692.3" r="8.35" fill="#fff" stroke="#000" stroke-width="2.5"/>
<circle cx="684.9" cy="1713" r="8.35" fill="#fff" stroke="#000" stroke-width="2.5"/>
<circle cx="734.8" cy="1726.3" r="8.35" fill="#fff" stroke="#000" stroke-width="2.5"/>
<circle cx="785" cy="1729.3" r="8.35" fill="#fff" stroke="#000" stroke-width="2.5"/>
<circle cx="266.6" cy="1766.1" r="9" fill="#000"/>
<circle cx="383.9" cy="1765.3" r="9" fill="#000"/>
<circle cx="484" cy="1765.3" r="9" fill="#000"/>
<circle cx="584.6" cy="1765.9" r="9" fill="#000"/>
<circle cx="634.5" cy="1773.5" r="9" fill="#000"/>
<circle cx="684.9" cy="1781.1" r="9" fill="#000"/>
<circle cx="734.8" cy="1788" r="9" fill="#000"/>
<circle cx="785" cy="1791.2" r="9" fill="#000"/>
<text x="684.9" y="1690.0" font-size="33" text-anchor="middle" font-weight="normal">*</text>
<text x="734" y="1711.3" font-size="33" text-anchor="middle" font-weight="normal">*</text>
<text x="784.4" y="1716.0" font-size="33" text-anchor="middle" font-weight="normal">*</text>
<line x1="223.6" y1="2085.7" x2="308.9" y2="2085.7" stroke="#000" stroke-width="2.5" stroke-linecap="butt"/>
<line x1="308.9" y1="2077.7" x2="308.9" y2="2093.7" stroke="#000" stroke-width="2.5" stroke-linecap="butt"/>
<line x1="265.8" y1="2085.7" x2="265.8" y2="2094.7" stroke="#000" stroke-width="2.5" stroke-linecap="butt"/>
<line x1="333" y1="2085.7" x2="807" y2="2085.7" stroke="#000" stroke-width="2.5" stroke-linecap="butt"/>
<line x1="333" y1="2077.7" x2="333" y2="2093.7" stroke="#000" stroke-width="2.5" stroke-linecap="butt"/>
<line x1="383.9" y1="2085.7" x2="383.9" y2="2094.7" stroke="#000" stroke-width="2.5" stroke-linecap="butt"/>
<line x1="484" y1="2085.7" x2="484" y2="2094.7" stroke="#000" stroke-width="2.5" stroke-linecap="butt"/>
<line x1="584.6" y1="2085.7" x2="584.6" y2="2094.7" stroke="#000" stroke-width="2.5" stroke-linecap="butt"/>
<line x1="684.9" y1="2085.7" x2="684.9" y2="2094.7" stroke="#000" stroke-width="2.5" stroke-linecap="butt"/>
<line x1="785" y1="2085.7" x2="785" y2="2094.7" stroke="#000" stroke-width="2.5" stroke-linecap="butt"/>
<text x="265.8" y="2134.2" font-size="38.3" text-anchor="middle" font-weight="normal">Ctr</text>
<text x="383.9" y="2134.2" font-size="38.3" text-anchor="middle" font-weight="normal">9</text>
<text x="484" y="2134.2" font-size="38.3" text-anchor="middle" font-weight="normal">8</text>
<text x="584.6" y="2134.2" font-size="38.3" text-anchor="middle" font-weight="normal">7</text>
<text x="684.9" y="2134.2" font-size="38.3" text-anchor="middle" font-weight="normal">6</text>
<text x="785" y="2134.2" font-size="38.3" text-anchor="middle" font-weight="normal">5</text>
<text x="568.5" y="2191.3" font-size="42.8" text-anchor="middle" font-weight="normal">5-MeO-DMT (-log[M])</text>
<line x1="223.6" y1="1947.8" x2="260.4" y2="1947.8" stroke="#000" stroke-width="2.5" stroke-linecap="butt"/>
<circle cx="241.8" cy="1947.8" r="8.35" fill="#fff" stroke="#000" stroke-width="2.5"/>
<line x1="223.6" y1="1998.5" x2="260.4" y2="1998.5" stroke="#000" stroke-width="2.5" stroke-linecap="butt"/>
<circle cx="241.8" cy="1998.5" r="9" fill="#000"/>
<text x="279" y="1960.5" font-size="37.5" text-anchor="start" font-weight="normal">TR (n=7)</text>
<text x="279" y="2010.5" font-size="37.5" text-anchor="start" font-weight="normal">TTP (n=7)</text>
</svg>
</body>
</html>
